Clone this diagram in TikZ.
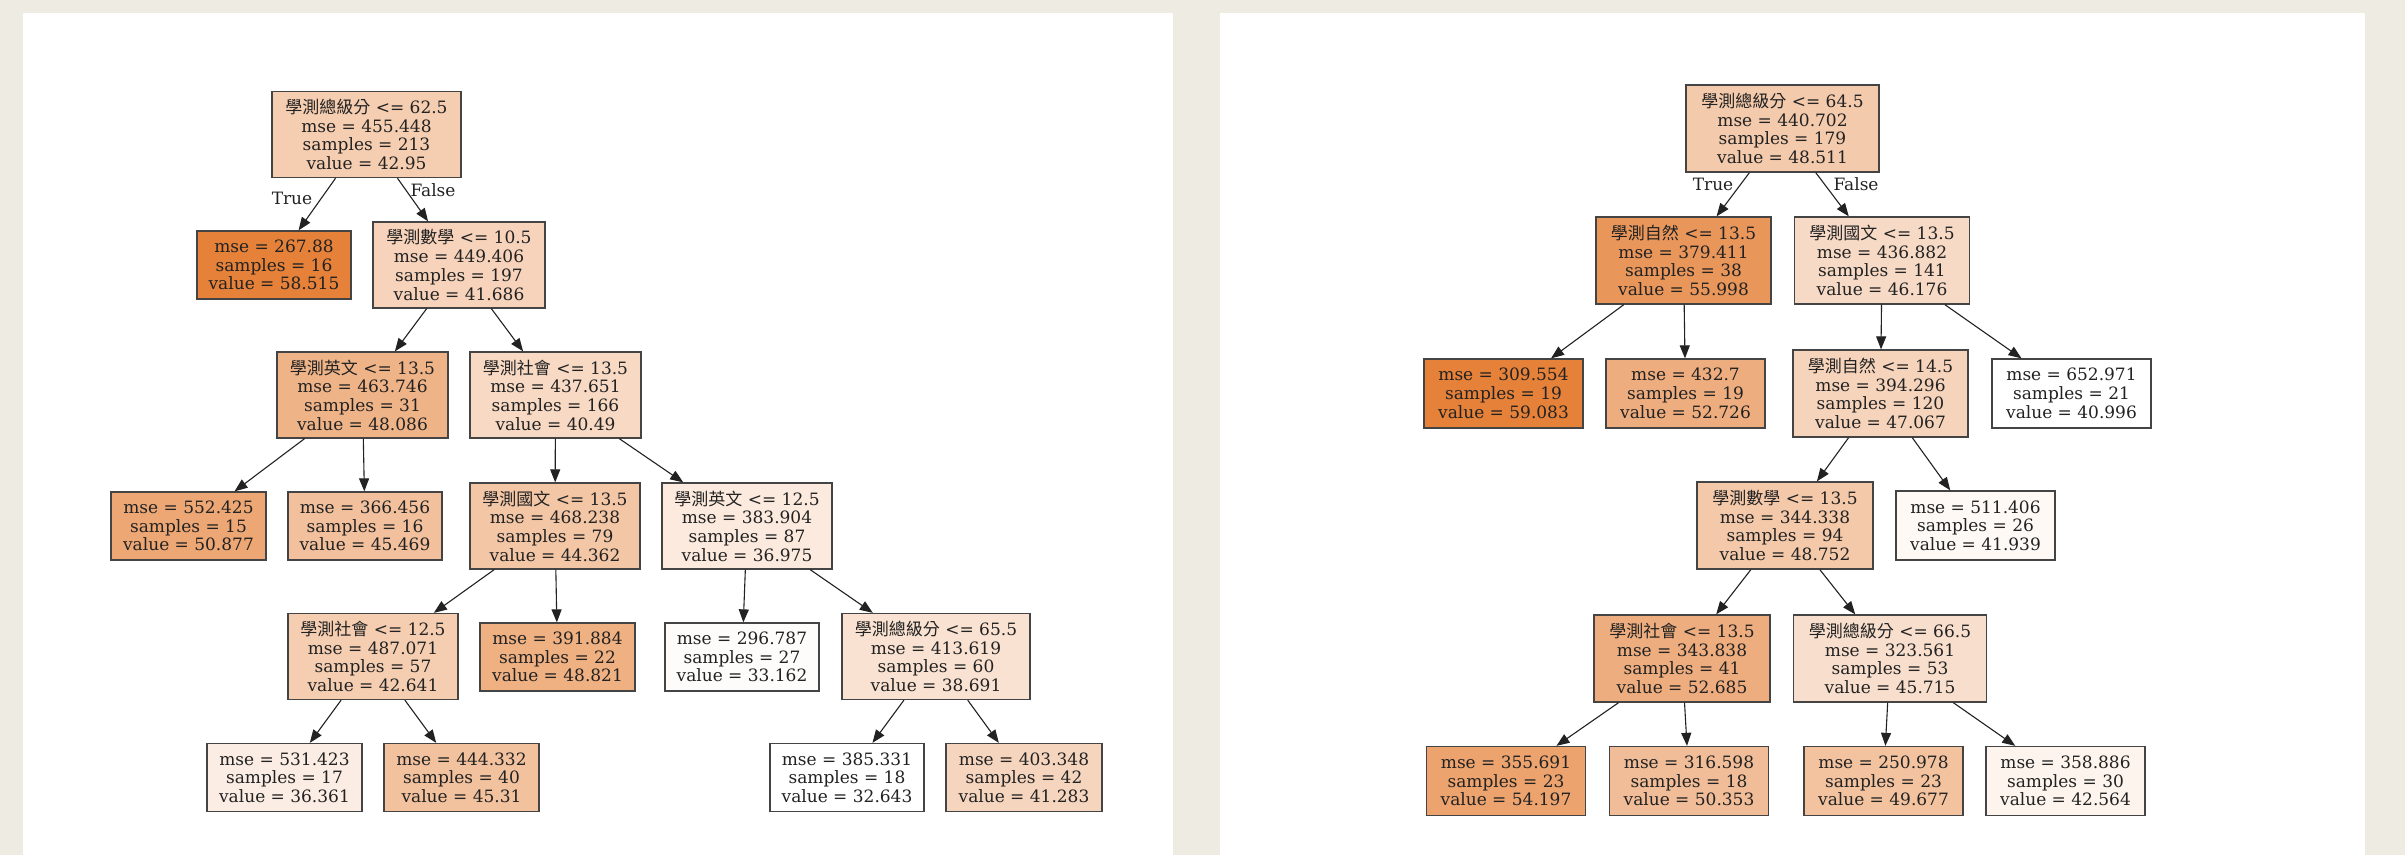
\documentclass[tikz,border=0pt]{standalone}
\usepackage{fontspec}
\setmainfont{DejaVu Serif}
\newfontfamily\cjk{Noto Sans CJK TC}
\usetikzlibrary{arrows.meta}
\definecolor{sk}{RGB}{229,129,57}
\definecolor{bgbeige}{RGB}{238,235,227}
\definecolor{ink}{RGB}{34,34,34}
\definecolor{rim}{RGB}{68,68,68}
\newcommand{\tfont}{\fontsize{17pt}{18.7pt}\selectfont}
\tikzset{
  tnode/.style={draw=rim, line width=1.3pt, align=center, inner sep=0pt, font=\tfont, text=ink},
  split/.style={tnode, minimum height=86pt},
  leaf/.style={tnode, minimum height=68pt},
  edge/.style={draw=ink, line width=1.1pt, -{Triangle[length=13pt,width=10pt]}},
  lbl/.style={font=\tfont, text=ink, inner sep=0pt}
}
\begin{document}
\begin{tikzpicture}[x=1pt,y=-1pt]
\useasboundingbox (0,0) rectangle (2405,855);
\fill[bgbeige] (0,0) rectangle (2405,855);
\fill[white] (23,13) rectangle (1173,855);
\fill[white] (1220,13) rectangle (2365,855);

% ---------- left tree ----------
\node[split, minimum width=189pt, fill=sk!40!white] (L0) at (366.5,134.5) {{\cjk 學測總級分} <= 62.5\\mse = 455.448\\samples = 213\\value = 42.95};
\node[leaf, minimum width=154pt, fill=sk] (L1) at (274,265) {mse = 267.88\\samples = 16\\value = 58.515};
\node[split, minimum width=172pt, fill=sk!35!white] (L2) at (459,265) {{\cjk 學測數學} <= 10.5\\mse = 449.406\\samples = 197\\value = 41.686};
\node[split, minimum width=171pt, fill=sk!60!white] (L3) at (362.5,395) {{\cjk 學測英文} <= 13.5\\mse = 463.746\\samples = 31\\value = 48.086};
\node[split, minimum width=171pt, fill=sk!30!white] (L4) at (555.5,395) {{\cjk 學測社會} <= 13.5\\mse = 437.651\\samples = 166\\value = 40.49};
\node[leaf, minimum width=155pt, fill=sk!70!white] (L5) at (188.5,526) {mse = 552.425\\samples = 15\\value = 50.877};
\node[leaf, minimum width=154pt, fill=sk!50!white] (L6) at (365,526) {mse = 366.456\\samples = 16\\value = 45.469};
\node[split, minimum width=170pt, fill=sk!45!white] (L7) at (555,526) {{\cjk 學測國文} <= 13.5\\mse = 468.238\\samples = 79\\value = 44.362};
\node[split, minimum width=170pt, fill=sk!17!white] (L8) at (747,526) {{\cjk 學測英文} <= 12.5\\mse = 383.904\\samples = 87\\value = 36.975};
\node[split, minimum width=170pt, fill=sk!39!white] (L9) at (373,656.5) {{\cjk 學測社會} <= 12.5\\mse = 487.071\\samples = 57\\value = 42.641};
\node[leaf, minimum width=155pt, fill=sk!63!white] (L10) at (557.5,657) {mse = 391.884\\samples = 22\\value = 48.821};
\node[leaf, minimum width=154pt, fill=sk!2!white] (L11) at (742,657) {mse = 296.787\\samples = 27\\value = 33.162};
\node[split, minimum width=188pt, fill=sk!23!white] (L12) at (936,656.5) {{\cjk 學測總級分} <= 65.5\\mse = 413.619\\samples = 60\\value = 38.691};
\node[leaf, minimum width=155pt, fill=sk!14!white] (L13) at (284.5,777.5) {mse = 531.423\\samples = 17\\value = 36.361};
\node[leaf, minimum width=155pt, fill=sk!49!white] (L14) at (461.5,777.5) {mse = 444.332\\samples = 40\\value = 45.31};
\node[leaf, minimum width=154pt, fill=white] (L15) at (847,777.5) {mse = 385.331\\samples = 18\\value = 32.643};
\node[leaf, minimum width=156pt, fill=sk!33!white] (L16) at (1024,777.5) {mse = 403.348\\samples = 42\\value = 41.283};

\draw[edge] (L0) -- (L1);
\draw[edge] (L0) -- (L2);
\draw[edge] (L2) -- (L3);
\draw[edge] (L2) -- (L4);
\draw[edge] (L3) -- (L5);
\draw[edge] (L3) -- (L6);
\draw[edge] (L4) -- (L7);
\draw[edge] (L4) -- (L8);
\draw[edge] (L7) -- (L9);
\draw[edge] (L7) -- (L10);
\draw[edge] (L8) -- (L11);
\draw[edge] (L8) -- (L12);
\draw[edge] (L9) -- (L13);
\draw[edge] (L9) -- (L14);
\draw[edge] (L12) -- (L15);
\draw[edge] (L12) -- (L16);
\node[lbl] (LT) at (292,198) {True};
\node[lbl] (LF) at (433,190) {False};

% ---------- right tree ----------
\node[split, minimum width=193pt, minimum height=87pt, fill=sk!42!white] (R0) at (1782.5,128.5) {{\cjk 學測總級分} <= 64.5\\mse = 440.702\\samples = 179\\value = 48.511};
\node[split, minimum width=175pt, minimum height=87pt, fill=sk!83!white] (R1) at (1683.5,260.5) {{\cjk 學測自然} <= 13.5\\mse = 379.411\\samples = 38\\value = 55.998};
\node[split, minimum width=175pt, minimum height=87pt, fill=sk!29!white] (R2) at (1882,260.5) {{\cjk 學測國文} <= 13.5\\mse = 436.882\\samples = 141\\value = 46.176};
\node[leaf, minimum width=159pt, minimum height=69pt, fill=sk] (R3) at (1503.5,393.5) {mse = 309.554\\samples = 19\\value = 59.083};
\node[leaf, minimum width=159pt, minimum height=69pt, fill=sk!65!white] (R4) at (1685.5,393.5) {mse = 432.7\\samples = 19\\value = 52.726};
\node[split, minimum width=175pt, minimum height=87pt, fill=sk!34!white] (R5) at (1880.5,393.5) {{\cjk 學測自然} <= 14.5\\mse = 394.296\\samples = 120\\value = 47.067};
\node[leaf, minimum width=159pt, minimum height=69pt, fill=white] (R6) at (2071.5,393.5) {mse = 652.971\\samples = 21\\value = 40.996};
\node[split, minimum width=176pt, minimum height=87pt, fill=sk!43!white] (R7) at (1785,525.5) {{\cjk 學測數學} <= 13.5\\mse = 344.338\\samples = 94\\value = 48.752};
\node[leaf, minimum width=159pt, minimum height=69pt, fill=sk!5!white] (R8) at (1975.5,525.5) {mse = 511.406\\samples = 26\\value = 41.939};
\node[split, minimum width=176pt, minimum height=87pt, fill=sk!65!white] (R9) at (1682,658.5) {{\cjk 學測社會} <= 13.5\\mse = 343.838\\samples = 41\\value = 52.685};
\node[split, minimum width=193pt, minimum height=87pt, fill=sk!26!white] (R10) at (1890,658.5) {{\cjk 學測總級分} <= 66.5\\mse = 323.561\\samples = 53\\value = 45.715};
\node[leaf, minimum width=159pt, minimum height=69pt, fill=sk!73!white] (R11) at (1506,781) {mse = 355.691\\samples = 23\\value = 54.197};
\node[leaf, minimum width=159pt, minimum height=69pt, fill=sk!52!white] (R12) at (1689,781) {mse = 316.598\\samples = 18\\value = 50.353};
\node[leaf, minimum width=159pt, minimum height=69pt, fill=sk!48!white] (R13) at (1883.5,781) {mse = 250.978\\samples = 23\\value = 49.677};
\node[leaf, minimum width=159pt, minimum height=69pt, fill=sk!9!white] (R14) at (2065.5,781) {mse = 358.886\\samples = 30\\value = 42.564};

\draw[edge] (R0) -- (R1);
\draw[edge] (R0) -- (R2);
\draw[edge] (R1) -- (R3);
\draw[edge] (R1) -- (R4);
\draw[edge] (R2) -- (R5);
\draw[edge] (R2) -- (R6);
\draw[edge] (R5) -- (R7);
\draw[edge] (R5) -- (R8);
\draw[edge] (R7) -- (R9);
\draw[edge] (R7) -- (R10);
\draw[edge] (R9) -- (R11);
\draw[edge] (R9) -- (R12);
\draw[edge] (R10) -- (R13);
\draw[edge] (R10) -- (R14);
\node[lbl] (RT) at (1713,184) {True};
\node[lbl] (RF) at (1856,184) {False};
\end{tikzpicture}
\end{document}
